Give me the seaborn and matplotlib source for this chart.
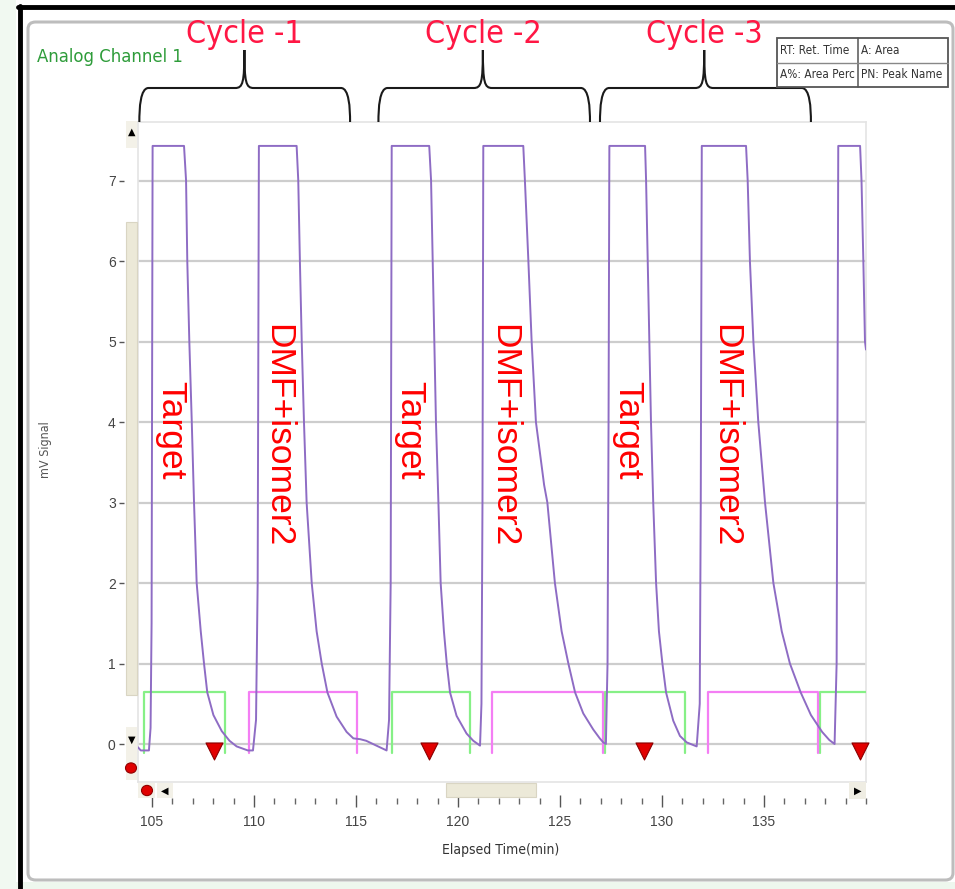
import numpy as np
import pandas as pd
import matplotlib
matplotlib.use("Agg")
import matplotlib.pyplot as plt
import seaborn as sns
from matplotlib.patches import Rectangle, FancyBboxPatch, Circle, PathPatch
from matplotlib.path import Path
from matplotlib.lines import Line2D
from matplotlib.transforms import blended_transform_factory
from matplotlib import font_manager

# ---------------- data ----------------
time_min = [104.31, 104.45, 104.85, 104.93, 104.98, 105.03, 106.57, 106.67, 106.73, 106.83,
            106.95, 107.06, 107.19, 107.39, 107.55, 107.71, 108.01, 108.42, 108.80, 109.15,
            109.70, 109.95, 110.10, 110.18, 110.24, 112.09, 112.17, 112.25, 112.34, 112.45,
            112.58, 112.83, 113.07, 113.32, 113.60, 114.05, 114.54, 114.87, 115.20, 115.50,
            116.00, 116.50, 116.62, 116.70, 116.75, 118.59, 118.68, 118.76, 118.84, 118.92,
            119.04, 119.15, 119.31, 119.45, 119.61, 119.93, 120.42, 120.75, 121.08, 121.15,
            121.20, 121.24, 123.20, 123.28, 123.45, 123.61, 123.82, 124.18, 124.22, 124.38,
            124.75, 125.08, 125.41, 125.74, 126.14, 126.63, 126.95, 127.12, 127.25, 127.33,
            127.38, 127.42, 129.17, 129.22, 129.30, 129.38, 129.46, 129.57, 129.71, 129.85,
            130.02, 130.20, 130.55, 130.88, 131.21, 131.70, 131.85, 131.90, 131.95, 134.12,
            134.20, 134.31, 134.48, 134.72, 135.05, 135.46, 135.87, 136.27, 136.80, 137.30,
            137.85, 138.20, 138.46, 138.56, 138.60, 138.64, 139.71, 139.78, 139.87, 139.95,
            140.00]
signal_mv = [-0.04, -0.08, -0.08, 0.20, 1.50, 7.43, 7.43, 7.00, 6.00, 5.00,
             4.00, 3.00, 2.00, 1.40, 1.00, 0.64, 0.36, 0.16, 0.04, -0.03,
             -0.08, -0.08, 0.30, 2.00, 7.43, 7.43, 7.00, 6.00, 5.00, 4.00,
             3.00, 2.00, 1.40, 1.00, 0.64, 0.34, 0.15, 0.07, 0.06, 0.04,
             -0.02, -0.08, 0.30, 2.00, 7.43, 7.43, 7.00, 6.00, 5.00, 4.00,
             3.00, 2.00, 1.40, 1.00, 0.64, 0.35, 0.13, 0.04, -0.02, 0.50,
             3.00, 7.43, 7.43, 7.00, 6.00, 5.00, 4.00, 3.30, 3.22, 3.00,
             2.00, 1.40, 1.00, 0.64, 0.38, 0.18, 0.07, 0.02, 0.00, 1.00,
             4.00, 7.43, 7.43, 7.00, 6.00, 5.00, 4.00, 3.00, 2.00, 1.40,
             1.00, 0.64, 0.29, 0.10, 0.02, -0.03, 0.50, 3.00, 7.43, 7.43,
             7.00, 6.00, 5.00, 4.00, 3.00, 2.00, 1.40, 1.00, 0.64, 0.36,
             0.15, 0.05, 0.00, 1.00, 4.00, 7.43, 7.43, 7.00, 6.00, 5.00,
             4.90]

target_gate_start = [104.62, 116.76, 127.21, 137.76]
target_gate_end = [108.56, 120.59, 131.14, 141.00]
dmf_gate_start = [109.74, 121.67, 132.24]
dmf_gate_end = [115.03, 127.09, 137.66]
gate_high = 0.645
gate_low = -0.11

marker_time = [108.06, 118.59, 129.13, 139.71]
marker_signal = [-0.09, -0.09, -0.09, -0.09]

cycle_labels = ["Cycle -1", "Cycle -2", "Cycle -3"]
cycle_start = [104.38, 116.10, 126.96]
cycle_mid = [109.53, 121.22, 132.07]
cycle_end = [114.71, 126.47, 137.30]

peak_labels = ["Target", "DMF+isomer2", "Target", "DMF+isomer2", "Target", "DMF+isomer2"]
peak_label_time = [105.93, 111.18, 117.65, 122.25, 128.33, 133.14]
peak_label_signal = [3.90, 3.83, 3.90, 3.83, 3.90, 3.83]

y_ticks = [0, 1, 2, 3, 4, 5, 6, 7]
x_major = [105, 110, 115, 120, 125, 130, 135]
x_minor = list(range(104, 141))

legend_cells = [["RT: Ret. Time", "A: Area"], ["A%: Area Perc", "PN: Peak Name"]]

# ---------------- style ----------------
sns.set_style("white")
ttf = font_manager.fontManager.ttflist
names = {f.name for f in ttf}
if "Liberation Sans Narrow" in names:
    NARROW = {"family": ["Liberation Sans Narrow", "DejaVu Sans"]}
    HAVE_NARROW = True
elif any(f.name == "DejaVu Sans" and "condensed" in str(f.stretch) for f in ttf):
    NARROW = {"family": ["DejaVu Sans"], "fontstretch": "condensed"}
    HAVE_NARROW = True
else:
    NARROW = {"family": ["Liberation Sans", "DejaVu Sans"]}
    HAVE_NARROW = False
plt.rcParams["font.family"] = ["Liberation Sans", "DejaVu Sans"]

PURPLE = "#8E6CC4"
GREEN = "#86F086"
MAGENTA = "#F47EF4"
BEIGE = "#ECE9D8"

W, H = 955, 889
fig = plt.figure(figsize=(W / 100, H / 100), dpi=100)
fig.patch.set_facecolor("white")


def fx(x):
    return x / W


def fy(y):
    return 1 - y / H


def frect(x0, y0, x1, y1, **kw):
    r = Rectangle((fx(x0), fy(y1)), fx(x1) - fx(x0), fy(y0) - fy(y1),
                  transform=fig.transFigure, **kw)
    fig.add_artist(r)
    return r


# ---------------- window frame decorations ----------------
frect(0, 0, 16, 889, facecolor="#F1F9F1", edgecolor="none", zorder=-5)
frect(16, 882, 955, 889, facecolor="#EEF7EE", edgecolor="none", zorder=-5)
inner = FancyBboxPatch((fx(28), fy(880)), fx(953) - fx(28), fy(22) - fy(880),
                       boxstyle="round,pad=0,rounding_size=0.008",
                       transform=fig.transFigure, facecolor="white",
                       edgecolor="#BDBDBD", lw=2.2, zorder=-4)
fig.add_artist(inner)
fig.add_artist(Line2D([fx(20), fx(20)], [fy(6), fy(889)], transform=fig.transFigure,
                      color="black", lw=3.5, zorder=3))
fig.add_artist(Line2D([fx(18), fx(955)], [fy(7), fy(7)], transform=fig.transFigure,
                      color="black", lw=3.5, zorder=3))

# ---------------- main axes ----------------
ax = fig.add_axes([fx(138), fy(782), (866 - 138) / W, (782 - 122) / H])
ax.set_xlim(104.314, 140.0)
ax.set_ylim(-0.472, 7.727)

trace = pd.DataFrame({"t": time_min, "v": signal_mv})


def gate_frame(starts, ends):
    rows = []
    for i, (s, e) in enumerate(zip(starts, ends)):
        rows += [(s, gate_low, i), (s, gate_high, i), (e, gate_high, i), (e, gate_low, i)]
    return pd.DataFrame(rows, columns=["t", "v", "gate"])


sns.lineplot(data=gate_frame(target_gate_start, target_gate_end), x="t", y="v",
             units="gate", estimator=None, sort=False, color=GREEN, lw=1.6, ax=ax, zorder=3)
sns.lineplot(data=gate_frame(dmf_gate_start, dmf_gate_end), x="t", y="v",
             units="gate", estimator=None, sort=False, color=MAGENTA, lw=1.6, ax=ax, zorder=3)
sns.lineplot(data=trace, x="t", y="v", estimator=None, sort=False, color=PURPLE,
             lw=1.4, ax=ax, zorder=4)
sns.scatterplot(x=marker_time, y=marker_signal, marker="v", s=150, color="#E20000",
                edgecolor="#8A0000", linewidth=0.8, ax=ax, zorder=6, clip_on=False)

ax.set_xlabel("")
ax.set_ylabel("")
ax.set_yticks(y_ticks)
ax.set_yticklabels([])
ax.set_xticks(x_major)
ax.set_xticklabels([])
ax.tick_params(axis="y", direction="in", length=6, width=1.6, color="#8A8A8A")
ax.tick_params(axis="x", direction="in", length=7, width=1.2, color="#555555")
ax.grid(axis="y", color="#CDCDCD", lw=1.6, zorder=0)
ax.grid(axis="x", visible=False)
for s in ax.spines.values():
    s.set_color("#E4E4E4")
    s.set_linewidth(1.2)

# y tick labels with dash (left of the scroll bar)
sec = ax.secondary_yaxis(-0.0192)
sec.set_yticks(y_ticks)
sec.tick_params(direction="out", length=3.5, width=1.0, color="#555555", pad=2.5,
                labelsize=10, labelcolor="#444444")
for s in sec.spines.values():
    s.set_visible(False)

# bottom time ruler
ruler = ax.secondary_xaxis(-0.0288)
ruler.set_xticks(x_major)
ruler.set_xticks(x_minor, minor=True)
ruler.tick_params(which="major", direction="inout", length=9, width=1.0, color="#555555",
                  pad=5.5, labelsize=10, labelcolor="#444444")
ruler.tick_params(which="minor", direction="inout", length=5, width=1.0, color="#666666")
for s in ruler.spines.values():
    s.set_visible(False)

# ---------------- peak labels ----------------
for lab, t, v in zip(peak_labels, peak_label_time, peak_label_signal):
    ax.text(t, v, lab, rotation=-90, ha="center", va="center", color="#FF0000",
            fontsize=25.5, family=["Liberation Sans", "DejaVu Sans"], zorder=7)

# ---------------- cycle braces ----------------
btr = blended_transform_factory(ax.transData, ax.transAxes)
yb = 1.0
ybar = (782 - 88) / 660
ytop = (782 - 50) / 660
dx = 0.45
cycle_fs = 23 if HAVE_NARROW else 21
for lab, x0, xm, x1 in zip(cycle_labels, cycle_start, cycle_mid, cycle_end):
    verts = [(x0, yb), (x0, ybar - 0.03), (x0 + 0.05, ybar), (x0 + dx, ybar),
             (xm - dx, ybar),
             (xm - 0.08, ybar), (xm, ybar + 0.008), (xm, ytop),
             (xm, ybar + 0.008), (xm + 0.08, ybar), (xm + dx, ybar),
             (x1 - dx, ybar),
             (x1 - 0.05, ybar), (x1, ybar - 0.03), (x1, yb)]
    codes = [Path.MOVETO, Path.CURVE4, Path.CURVE4, Path.CURVE4, Path.LINETO,
             Path.CURVE4, Path.CURVE4, Path.CURVE4, Path.CURVE4, Path.CURVE4, Path.CURVE4,
             Path.LINETO, Path.CURVE4, Path.CURVE4, Path.CURVE4]
    ax.add_patch(PathPatch(Path(verts, codes), transform=btr, facecolor="none",
                           edgecolor="#1A1A1A", lw=1.5, clip_on=False, zorder=5))
    ax.text(xm, (782 - 43) / 660, lab, transform=btr, ha="center", va="baseline",
            color="#FF1744", fontsize=cycle_fs, clip_on=False, **NARROW)

# ---------------- scroll bars / buttons ----------------
frect(126, 222, 137, 695, facecolor=BEIGE, edgecolor="#D9D5C3", lw=0.8, zorder=2)
frect(126, 121, 137, 148, facecolor="#F3F1E8", edgecolor="none", zorder=2)
frect(126, 727, 137, 780, facecolor="#F3F1E8", edgecolor="none", zorder=2)
fig.text(fx(131.5), fy(132), "\u25B2", ha="center", va="center", fontsize=7,
         family="DejaVu Sans", color="black", zorder=3)
fig.text(fx(131.5), fy(740), "\u25BC", ha="center", va="center", fontsize=7,
         family="DejaVu Sans", color="black", zorder=3)
fig.add_artist(Circle((fx(131), fy(768)), 5.5 / W, transform=fig.transFigure,
                      facecolor="#E00000", edgecolor="#900000", lw=0.8, zorder=3))

frect(138, 783, 155, 798, facecolor="#F3F1E8", edgecolor="none", zorder=2)
fig.add_artist(Circle((fx(147), fy(790.5)), 5.5 / W, transform=fig.transFigure,
                      facecolor="#E00000", edgecolor="#900000", lw=0.8, zorder=3))
frect(157, 783, 173, 798, facecolor="#F3F1E8", edgecolor="none", zorder=2)
fig.text(fx(165), fy(790.5), "\u25C0", ha="center", va="center", fontsize=7,
         family="DejaVu Sans", color="black", zorder=3)
frect(446, 783, 536, 797, facecolor=BEIGE, edgecolor="#D9D5C3", lw=0.8, zorder=2)
frect(849, 782, 866, 799, facecolor="#EFEDE3", edgecolor="none", zorder=2)
fig.text(fx(857.5), fy(790.5), "\u25B6", ha="center", va="center", fontsize=7,
         family="DejaVu Sans", color="black", zorder=3)

# ---------------- texts ----------------
fig.text(fx(37), fy(57), "Analog Channel 1", ha="left", va="center", color="#2E9C3A",
         fontsize=(13.2 if HAVE_NARROW else 12.5), **NARROW)
fig.text(fx(45), fy(450), "mV Signal", rotation=90, ha="center", va="center",
         color="#555555", fontsize=9, **NARROW)
fig.text(fx(501), fy(850), "Elapsed Time(min)", ha="center", va="center",
         color="#333333", fontsize=10, **NARROW)

# legend table (top right)
frect(777, 38, 948, 87, facecolor="white", edgecolor="#555555", lw=1.3, zorder=6)
fig.add_artist(Line2D([fx(858), fx(858)], [fy(38), fy(87)], transform=fig.transFigure,
                      color="#555555", lw=1.1, zorder=7))
fig.add_artist(Line2D([fx(777), fx(948)], [fy(62.5), fy(62.5)], transform=fig.transFigure,
                      color="#888888", lw=1.0, zorder=7))
for r, yc in enumerate([50.5, 74.5]):
    for c, xc in enumerate([780, 861]):
        fig.text(fx(xc), fy(yc), legend_cells[r][c], ha="left", va="center",
                 color="#333333", fontsize=(8.5 if HAVE_NARROW else 7.6), zorder=8, **NARROW)

fig.savefig("out.png", dpi=100, facecolor="white")
